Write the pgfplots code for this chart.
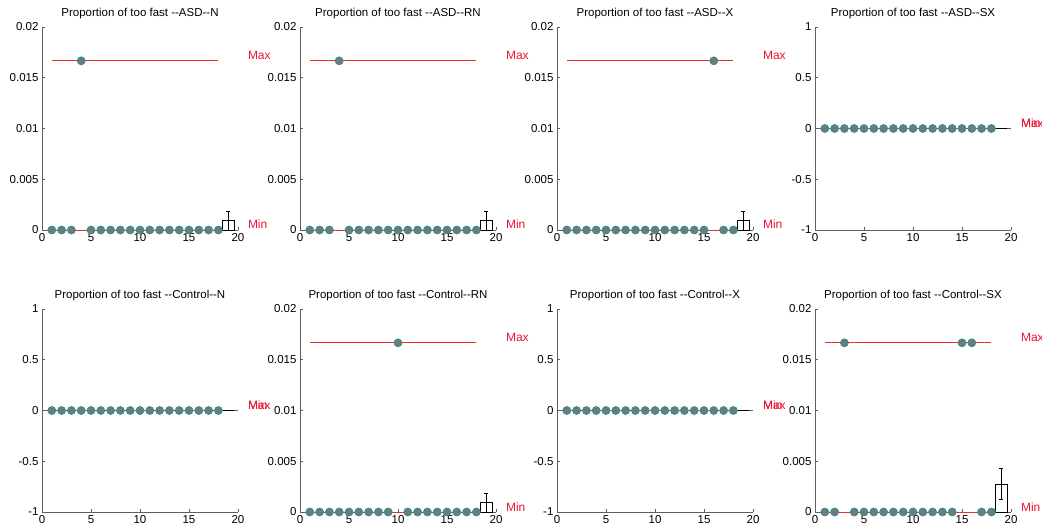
\documentclass[border=0pt]{standalone}
\usepackage{pgfplots}
\pgfplotsset{compat=1.18}
\usepackage{fontspec}
\setmainfont{Liberation Sans}
\definecolor{mkfill}{RGB}{112,122,122}
\definecolor{mkedge}{RGB}{30,150,150}
\definecolor{refred}{RGB}{235,45,45}
\definecolor{lblred}{RGB}{235,20,50}
\definecolor{axgray}{RGB}{95,95,95}
\tikzset{lbl/.style={text=lblred, anchor=base west, inner sep=0pt, yshift=1pt, font=\fontsize{12}{14}\selectfont}}
\pgfplotsset{
 panel/.style={
   scale only axis, width=196pt, height=203pt,
   anchor=south west,
   axis x line*=bottom, axis y line*=left,
   axis line style={axgray, line width=0.8pt},
   xmin=0,xmax=20, xtick={0,5,10,15,20}, xticklabels={0,5,10,15,20},
   scaled y ticks=false, scaled x ticks=false,
   tick align=inside, major tick length=3pt,
   tick style={axgray, line width=0.6pt},
   xticklabel style={font=\fontsize{11.5}{13}\selectfont, black},
   yticklabel style={font=\fontsize{11.5}{13}\selectfont, black},
   title style={font=\fontsize{11.5}{13}\selectfont, anchor=south, at={(0.5,1)}, yshift=2pt, inner sep=0pt},
   clip=false,
 },
 smallp/.style={ymin=0,ymax=0.02, ytick={0,0.005,0.01,0.015,0.02}, yticklabels={0,0.005,0.01,0.015,0.02}},
 unitp/.style={ymin=-1,ymax=1, ytick={-1,-0.5,0,0.5,1}, yticklabels={-1,-0.5,0,0.5,1}},
 pts/.style={only marks, mark=*, mark size=4pt, mark options={fill=mkfill, draw=mkedge, line width=0.7pt}},
 refl/.style={refred, line width=0.7pt, mark=none},
 base/.style={axgray, line width=0.8pt, mark=none},
 zbar/.style={ybar, bar width=1.2, fill=white, draw=black, line width=0.6pt},
 barst/.style={ybar, bar width=1.2, fill=white, draw=black, line width=0.6pt,
   error bars/.cd, y dir=both, y explicit,
   error bar style={black, line width=0.6pt},
   error mark options={rotate=90, black, mark size=2pt, line width=0.6pt}},
}
\begin{document}
\begin{tikzpicture}
\useasboundingbox (0,0) rectangle (1042pt,531pt);
% ---------------- Row 1 ----------------
\begin{axis}[panel, smallp, at={(42pt,301pt)}, title={Proportion of too fast -{}-ASD-{}-N}]
\addplot[base] coordinates {(0,0) (20,0)};
\addplot[refl] coordinates {(1,0.016667) (18,0.016667)};
\addplot[refl] coordinates {(1,0) (18,0)};
\addplot[barst] coordinates {(19,0.000926) +- (0,0.000926)};
\addplot[pts] coordinates {(1,0) (2,0) (3,0) (4,0.016667) (5,0) (6,0) (7,0) (8,0) (9,0) (10,0) (11,0) (12,0) (13,0) (14,0) (15,0) (16,0) (17,0) (18,0)};
\node[lbl] at (axis cs:21,0.016667) {Max};
\node[lbl] at (axis cs:21,0) {Min};
\end{axis}
\begin{axis}[panel, smallp, at={(300pt,301pt)}, title={Proportion of too fast -{}-ASD-{}-RN}]
\addplot[base] coordinates {(0,0) (20,0)};
\addplot[refl] coordinates {(1,0.016667) (18,0.016667)};
\addplot[refl] coordinates {(1,0) (18,0)};
\addplot[barst] coordinates {(19,0.000926) +- (0,0.000926)};
\addplot[pts] coordinates {(1,0) (2,0) (3,0) (4,0.016667) (5,0) (6,0) (7,0) (8,0) (9,0) (10,0) (11,0) (12,0) (13,0) (14,0) (15,0) (16,0) (17,0) (18,0)};
\node[lbl] at (axis cs:21,0.016667) {Max};
\node[lbl] at (axis cs:21,0) {Min};
\end{axis}
\begin{axis}[panel, smallp, at={(557pt,301pt)}, title={Proportion of too fast -{}-ASD-{}-X}]
\addplot[base] coordinates {(0,0) (20,0)};
\addplot[refl] coordinates {(1,0.016667) (18,0.016667)};
\addplot[refl] coordinates {(1,0) (18,0)};
\addplot[barst] coordinates {(19,0.000926) +- (0,0.000926)};
\addplot[pts] coordinates {(1,0) (2,0) (3,0) (4,0) (5,0) (6,0) (7,0) (8,0) (9,0) (10,0) (11,0) (12,0) (13,0) (14,0) (15,0) (16,0.016667) (17,0) (18,0)};
\node[lbl] at (axis cs:21,0.016667) {Max};
\node[lbl] at (axis cs:21,0) {Min};
\end{axis}
\begin{axis}[panel, unitp, at={(815pt,301pt)}, title={Proportion of too fast -{}-ASD-{}-SX}]
\addplot[base] coordinates {(0,0) (20,0)};
\addplot[refl] coordinates {(1,0) (18,0)};
\addplot[refl] coordinates {(1,0) (18,0)};
\addplot[zbar] coordinates {(19,0)};
\addplot[pts] coordinates {(1,0) (2,0) (3,0) (4,0) (5,0) (6,0) (7,0) (8,0) (9,0) (10,0) (11,0) (12,0) (13,0) (14,0) (15,0) (16,0) (17,0) (18,0)};
\node[lbl] at (axis cs:21,0) {Max};
\node[lbl] at (axis cs:21,0) {Min};
\end{axis}
% ---------------- Row 2 ----------------
\begin{axis}[panel, unitp, at={(42pt,19pt)}, title={Proportion of too fast -{}-Control-{}-N}]
\addplot[base] coordinates {(0,0) (20,0)};
\addplot[refl] coordinates {(1,0) (18,0)};
\addplot[refl] coordinates {(1,0) (18,0)};
\addplot[zbar] coordinates {(19,0)};
\addplot[pts] coordinates {(1,0) (2,0) (3,0) (4,0) (5,0) (6,0) (7,0) (8,0) (9,0) (10,0) (11,0) (12,0) (13,0) (14,0) (15,0) (16,0) (17,0) (18,0)};
\node[lbl] at (axis cs:21,0) {Max};
\node[lbl] at (axis cs:21,0) {Min};
\end{axis}
\begin{axis}[panel, smallp, at={(300pt,19pt)}, title={Proportion of too fast -{}-Control-{}-RN}]
\addplot[base] coordinates {(0,0) (20,0)};
\addplot[refl] coordinates {(1,0.016667) (18,0.016667)};
\addplot[refl] coordinates {(1,0) (18,0)};
\addplot[barst] coordinates {(19,0.000926) +- (0,0.000926)};
\addplot[pts] coordinates {(1,0) (2,0) (3,0) (4,0) (5,0) (6,0) (7,0) (8,0) (9,0) (10,0.016667) (11,0) (12,0) (13,0) (14,0) (15,0) (16,0) (17,0) (18,0)};
\node[lbl] at (axis cs:21,0.016667) {Max};
\node[lbl] at (axis cs:21,0) {Min};
\end{axis}
\begin{axis}[panel, unitp, at={(557pt,19pt)}, title={Proportion of too fast -{}-Control-{}-X}]
\addplot[base] coordinates {(0,0) (20,0)};
\addplot[refl] coordinates {(1,0) (18,0)};
\addplot[refl] coordinates {(1,0) (18,0)};
\addplot[zbar] coordinates {(19,0)};
\addplot[pts] coordinates {(1,0) (2,0) (3,0) (4,0) (5,0) (6,0) (7,0) (8,0) (9,0) (10,0) (11,0) (12,0) (13,0) (14,0) (15,0) (16,0) (17,0) (18,0)};
\node[lbl] at (axis cs:21,0) {Max};
\node[lbl] at (axis cs:21,0) {Min};
\end{axis}
\begin{axis}[panel, smallp, at={(815pt,19pt)}, title={Proportion of too fast -{}-Control-{}-SX}]
\addplot[base] coordinates {(0,0) (20,0)};
\addplot[refl] coordinates {(1,0.016667) (18,0.016667)};
\addplot[refl] coordinates {(1,0) (18,0)};
\addplot[barst] coordinates {(19,0.002778) +- (0,0.001507)};
\addplot[pts] coordinates {(1,0) (2,0) (3,0.016667) (4,0) (5,0) (6,0) (7,0) (8,0) (9,0) (10,0) (11,0) (12,0) (13,0) (14,0) (15,0.016667) (16,0.016667) (17,0) (18,0)};
\node[lbl] at (axis cs:21,0.016667) {Max};
\node[lbl] at (axis cs:21,0) {Min};
\end{axis}
\end{tikzpicture}
\end{document}
